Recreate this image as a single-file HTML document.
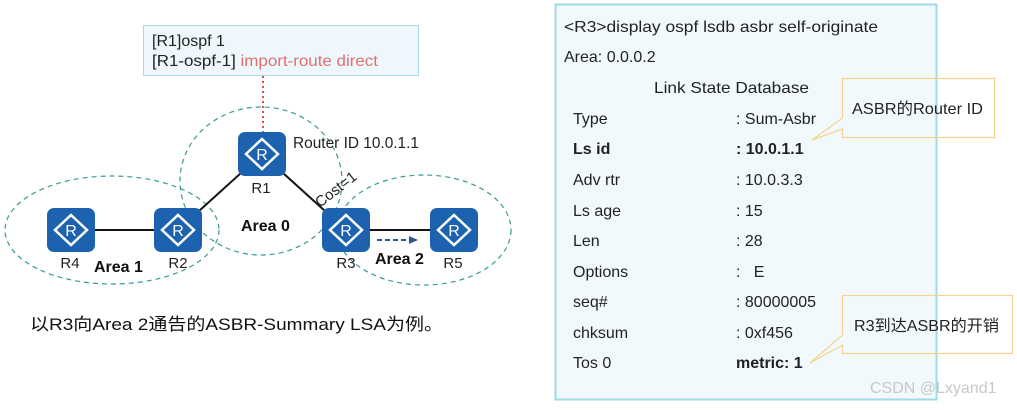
<!DOCTYPE html>
<html><head><meta charset="utf-8"><style>
body{margin:0;width:1017px;height:405px;background:#fff;overflow:hidden;font-family:"Liberation Sans","Noto Sans CJK SC",sans-serif;}
</style></head><body>
<svg width="1017" height="405" xmlns="http://www.w3.org/2000/svg" font-family="'Liberation Sans','Noto Sans CJK SC',sans-serif">
<defs>
<g id="rt">
<rect x="-24" y="-22" width="48" height="44" rx="7" fill="#1c62ae"/>
<polygon points="0,-15 16,0 0,15 -16,0" fill="none" stroke="#fff" stroke-width="2.5"/>
<text x="0" y="6" font-size="16" fill="#fff" text-anchor="middle">R</text>
</g>
</defs>
<rect x="143.5" y="25.5" width="275" height="50" fill="#eef7fb" stroke="#a8dbe8"/>
<text x="152" y="46" font-size="16" fill="#222">[R1]ospf 1</text>
<text x="152" y="66" font-size="16" fill="#222" textLength="226" lengthAdjust="spacingAndGlyphs">[R1-ospf-1] <tspan fill="#e07070">import-route direct</tspan></text>
<line x1="263" y1="76" x2="263" y2="133" stroke="#e05050" stroke-width="2" stroke-dasharray="2,3"/>
<g fill="none" stroke="#3a9a9a" stroke-width="1.2" stroke-dasharray="5,4">
<ellipse cx="112" cy="230" rx="107" ry="54"/>
<ellipse cx="261" cy="181" rx="81" ry="74"/>
<ellipse cx="424" cy="230" rx="87" ry="55"/>
</g>
<g stroke="#111" stroke-width="2">
<line x1="71" y1="230" x2="178" y2="230"/>
<line x1="178" y1="230" x2="262" y2="154"/>
<line x1="262" y1="154" x2="346" y2="230"/>
<line x1="346" y1="230" x2="454" y2="230"/>
</g>
<use href="#rt" x="262" y="154"/>
<use href="#rt" x="71" y="230"/>
<use href="#rt" x="178" y="230"/>
<use href="#rt" x="346" y="230"/>
<use href="#rt" x="454" y="230"/>
<g font-size="15" fill="#222" text-anchor="middle">
<text x="261" y="193">R1</text>
<text x="70" y="268">R4</text>
<text x="178" y="268">R2</text>
<text x="346" y="268">R3</text>
<text x="453" y="268">R5</text>
</g>
<text x="293" y="148" font-size="16" fill="#222" textLength="126" lengthAdjust="spacingAndGlyphs">Router ID 10.0.1.1</text>
<text x="0" y="0" font-size="15" fill="#222" transform="translate(320,208) rotate(-38)">Cost=1</text>
<g font-size="16" font-weight="bold" fill="#111">
<text x="241" y="231">Area 0</text>
<text x="94" y="272">Area 1</text>
<text x="375" y="264">Area 2</text>
</g>
<line x1="377" y1="240" x2="410" y2="240" stroke="#2a5a9a" stroke-width="2" stroke-dasharray="5,3"/>
<polygon points="418,240 409,236 409,244" fill="#2a5a9a"/>
<text x="30" y="330" font-size="17" fill="#111" textLength="413" lengthAdjust="spacingAndGlyphs">以R3向Area 2通告的ASBR-Summary LSA为例。</text>
<rect x="555.5" y="4.5" width="381" height="395" fill="#f1f9fd" stroke="#9ddbe6" stroke-width="2"/>
<g font-size="16" fill="#222">
<text x="564" y="32" textLength="314" lengthAdjust="spacingAndGlyphs">&lt;R3&gt;display ospf lsdb asbr self-originate</text>
<text x="564" y="62">Area: 0.0.0.2</text>
<text x="654" y="93" textLength="155" lengthAdjust="spacingAndGlyphs">Link State Database</text>
<text x="573" y="124">Type</text><text x="736" y="124">: Sum-Asbr</text>
<text x="573" y="154" font-weight="bold">Ls id</text><text x="736" y="154" font-weight="bold">: 10.0.1.1</text>
<text x="573" y="185">Adv rtr</text><text x="736" y="185">: 10.0.3.3</text>
<text x="573" y="216">Ls age</text><text x="736" y="216">: 15</text>
<text x="573" y="246">Len</text><text x="736" y="246">: 28</text>
<text x="573" y="277">Options</text><text x="736" y="277">:&#160;&#160;&#160;E</text>
<text x="573" y="307">seq#</text><text x="736" y="307">: 80000005</text>
<text x="573" y="338">chksum</text><text x="736" y="338">: 0xf456</text>
<text x="573" y="368">Tos 0</text><text x="736" y="368" font-weight="bold">metric: 1</text>
</g>
<path d="M842.5,78.5 H994.5 V137.5 H842.5 V129 L812,140 L842.5,118 Z" fill="none" stroke="#f3d58e" stroke-width="1.2"/>
<text x="852" y="114" font-size="16" fill="#222" textLength="131" lengthAdjust="spacingAndGlyphs">ASBR的Router ID</text>
<path d="M842.5,295.5 H1012.5 V353.5 H842.5 V345 L810,363 L842.5,335 Z" fill="none" stroke="#f3d58e" stroke-width="1.2"/>
<text x="854" y="331" font-size="16" fill="#222" textLength="145" lengthAdjust="spacingAndGlyphs">R3到达ASBR的开销</text>
<text x="870" y="393" font-size="16" fill="#c8c8c8">CSDN @Lxyand1</text>
</svg>
</body></html>
